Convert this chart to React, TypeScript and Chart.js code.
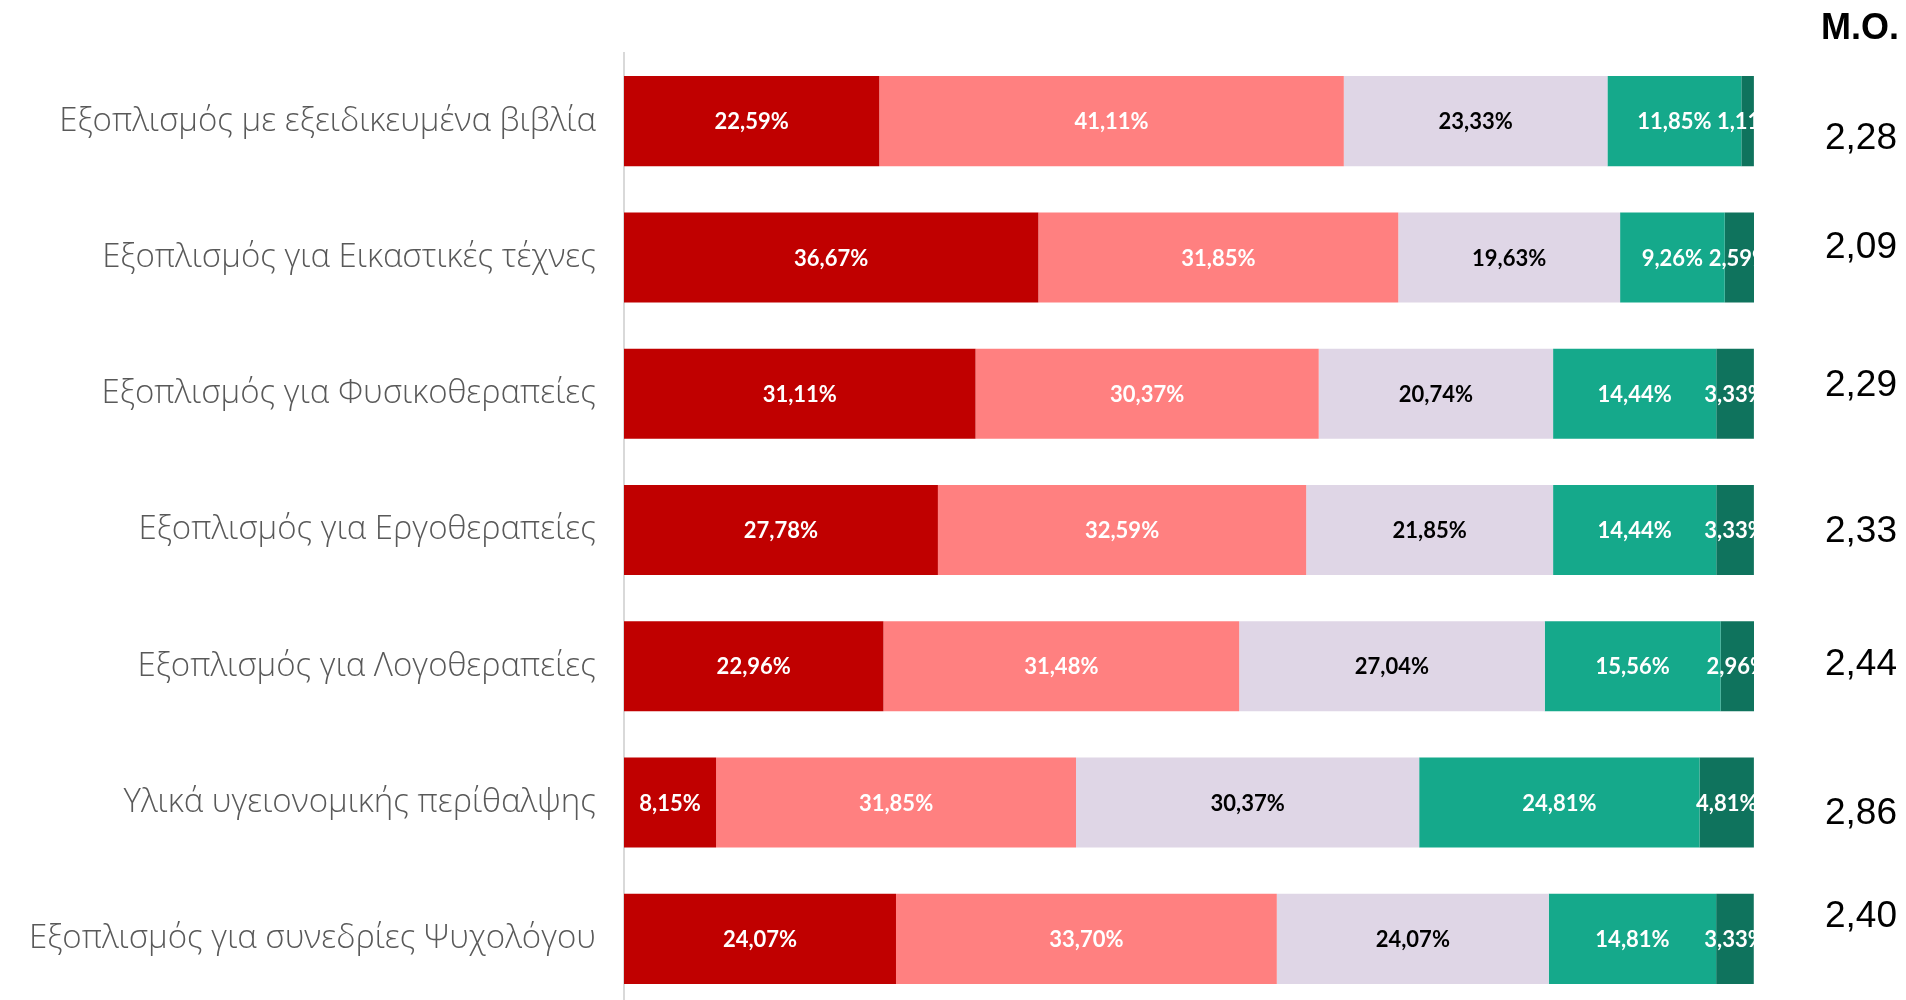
import React, { useEffect, useRef } from "react";
import { Chart, registerables } from "chart.js";

Chart.register(...registerables);

const categories = [
  "Εξοπλισμός με εξειδικευμένα βιβλία",
  "Εξοπλισμός για Εικαστικές τέχνες",
  "Εξοπλισμός για Φυσικοθεραπείες",
  "Εξοπλισμός για Εργοθεραπείες",
  "Εξοπλισμός για Λογοθεραπείες",
  "Υλικά υγειονομικής περίθαλψης",
  "Εξοπλισμός για συνεδρίες Ψυχολόγου",
];

const seriesNames = ["Καθόλου", "Λίγο", "Μέτρια", "Πολύ", "Πάρα πολύ"];

const level1 = [22.59, 36.67, 31.11, 27.78, 22.96, 8.15, 24.07];
const level2 = [41.11, 31.85, 30.37, 32.59, 31.48, 31.85, 33.7];
const level3 = [23.33, 19.63, 20.74, 21.85, 27.04, 30.37, 24.07];
const level4 = [11.85, 9.26, 14.44, 14.44, 15.56, 24.81, 14.81];
const level5 = [1.11, 2.59, 3.33, 3.33, 2.96, 4.81, 3.33];

const meanValues = ["2,28", "2,09", "2,29", "2,33", "2,44", "2,86", "2,40"];
const meanTitle = "M.O.";

// layout only: vertical offsets (px) of the mean values from each bar centre
const meanOffsets = [18, -10, -8, 2, -1, 11, -22];

const colors = ["#C00000", "#FF8080", "#DFD6E6", "#15A98B", "#0F735D"];
const labelColors = ["#FFFFFF", "#FFFFFF", "#000000", "#FFFFFF", "#FFFFFF"];

const fmt = (v: number) => v.toFixed(2).replace(".", ",") + "%";

const segmentLabels = {
  id: "segmentLabels",
  afterDatasetsDraw(chart: any) {
    const { ctx, chartArea } = chart;
    ctx.save();
    ctx.beginPath();
    ctx.rect(chartArea.left, chartArea.top, chartArea.right - chartArea.left, chartArea.bottom - chartArea.top);
    ctx.clip();
    ctx.font = "bold 22px Lato";
    ctx.textAlign = "center";
    ctx.textBaseline = "middle";
    chart.data.datasets.forEach((ds: any, di: number) => {
      const meta = chart.getDatasetMeta(di);
      meta.data.forEach((el: any, i: number) => {
        const cx = (el.x + el.base) / 2;
        ctx.fillStyle = labelColors[di];
        ctx.fillText(fmt(ds.data[i]), cx, el.y + 1);
      });
    });
    ctx.restore();
  },
};

const meanColumn = {
  id: "meanColumn",
  afterDraw(chart: any) {
    const { ctx } = chart;
    const yScale = chart.scales.y;
    const rightX = 1897;
    ctx.save();
    ctx.textAlign = "right";
    ctx.textBaseline = "middle";
    ctx.fillStyle = "#000000";
    ctx.font = "bold 36px 'Liberation Sans', Arial, sans-serif";
    ctx.fillText(meanTitle, 1899, 29);
    ctx.font = "37px 'Liberation Sans', Arial, sans-serif";
    meanValues.forEach((v, i) => {
      const y = yScale.getPixelForValue(i) + meanOffsets[i];
      ctx.fillText(v, rightX, y);
    });
    ctx.restore();
  },
};

export default function App() {
  const ref = useRef<HTMLCanvasElement | null>(null);
  useEffect(() => {
    if (!ref.current) return;
    const datasets = [level1, level2, level3, level4, level5].map((d, i) => ({
      label: seriesNames[i],
      data: d,
      backgroundColor: colors[i],
      borderWidth: 0,
      categoryPercentage: 1,
      barPercentage: 0.661,
    }));
    const chart = new Chart(ref.current, {
      type: "bar",
      data: { labels: categories, datasets },
      options: {
        indexAxis: "y",
        animation: false,
        responsive: false,
        maintainAspectRatio: false,
        layout: { padding: { top: 53, right: 152, left: 0, bottom: 0 } },
        plugins: { legend: { display: false }, tooltip: { enabled: false } },
        scales: {
          x: { stacked: true, min: 0, max: 100, display: false },
          y: {
            stacked: true,
            grid: { display: false, drawTicks: false },
            border: { display: true, color: "#D9D9D9", width: 2 },
            ticks: {
              padding: 28,
              color: "#595959",
              font: { family: "'Open Sans'", size: 33, weight: "300" },
            },
            afterFit(scale: any) {
              scale.width = 624;
              scale.paddingTop = 0;
              scale.paddingBottom = 0;
            },
          },
        },
      },
      plugins: [segmentLabels, meanColumn],
    });
    return () => chart.destroy();
  }, []);
  return (
    <div style={{ position: "fixed", left: 0, top: 0, width: 1906, height: 1007, background: "#fff" }}>
      <canvas ref={ref} width={1906} height={1007} style={{ display: "block", width: 1906, height: 1007 }} />
    </div>
  );
}
